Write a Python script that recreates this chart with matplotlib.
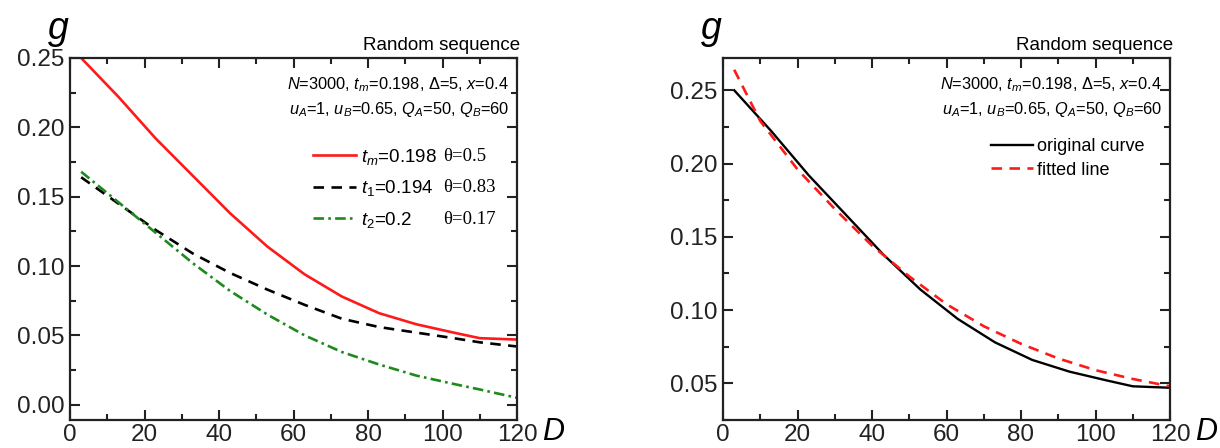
import matplotlib
matplotlib.use('Agg')
import matplotlib.pyplot as plt
from matplotlib.ticker import MultipleLocator, FormatStrFormatter

plt.rcParams['font.family'] = ['Liberation Sans', 'DejaVu Sans']
plt.rcParams['mathtext.fontset'] = 'custom'
plt.rcParams['mathtext.rm'] = 'Liberation Sans'
plt.rcParams['mathtext.it'] = 'Liberation Sans:italic'

# data
d_vals = [3, 13, 23, 33, 43, 53, 63, 73, 83, 93, 103, 110, 120]
g_tm = [0.250, 0.222, 0.192, 0.165, 0.138, 0.114, 0.094, 0.078, 0.066, 0.058, 0.052, 0.048, 0.047]
g_t1 = [0.164, 0.145, 0.126, 0.109, 0.095, 0.083, 0.072, 0.062, 0.056, 0.052, 0.048, 0.045, 0.042]
g_t2 = [0.168, 0.146, 0.124, 0.102, 0.082, 0.065, 0.050, 0.038, 0.029, 0.021, 0.015, 0.011, 0.005]

d_fit = [3, 10, 20, 30, 40, 50, 60, 70, 80, 90, 100, 110, 120]
g_fit = [0.264, 0.229, 0.196, 0.169, 0.144, 0.123, 0.104, 0.089, 0.077, 0.067, 0.059, 0.053, 0.048]

left_labels = [r'$t_m$=0.198', r'$t_1$=0.194', r'$t_2$=0.2']
theta_labels = ['θ=0.5', 'θ=0.83', 'θ=0.17']
right_labels = ['original curve', 'fitted line']

param1 = r'$N$=3000, $t_m$=0.198, Δ=5, $x$=0.4'
param2 = r'$u_A$=1, $u_B$=0.65, $Q_A$=50, $Q_B$=60'


def style(ax, ylim):
  ax.set_xlim(0, 120)
  ax.set_ylim(*ylim)
  ax.xaxis.set_major_locator(MultipleLocator(20))
  ax.xaxis.set_minor_locator(MultipleLocator(10))
  ax.yaxis.set_major_locator(MultipleLocator(0.05))
  ax.yaxis.set_minor_locator(MultipleLocator(0.025))
  ax.yaxis.set_major_formatter(FormatStrFormatter('%.2f'))
  ax.tick_params(which='both', direction='in', top=True, right=True, width=1.5,
                 labelsize=17.5, colors='#222222')
  ax.tick_params(axis='x', pad=3)
  ax.tick_params(axis='y', pad=4)
  ax.tick_params(which='major', length=7)
  ax.tick_params(which='minor', length=4)
  for s in ax.spines.values():
    s.set_linewidth(1.6)
    s.set_color('#222222')
  ax.text(-0.025, 1.08, 'g', transform=ax.transAxes, fontsize=27, style='italic',
          ha='center', va='center')
  ax.text(1.08, -0.032, 'D', transform=ax.transAxes, fontsize=22, style='italic',
          ha='center', va='center')
  ax.text(1.006, 1.035, 'Random sequence', transform=ax.transAxes, fontsize=13.5,
          ha='right', va='center')
  ax.text(0.982, 0.925, param1, transform=ax.transAxes, fontsize=11.8,
          ha='right', va='center')
  ax.text(0.982, 0.858, param2, transform=ax.transAxes, fontsize=11.8,
          ha='right', va='center')


fig = plt.figure(figsize=(12.2, 4.48), dpi=100)
ax1 = fig.add_axes([70 / 1220, 28 / 448, 447 / 1220, 362 / 448])
ax2 = fig.add_axes([723 / 1220, 28 / 448, 447 / 1220, 362 / 448])

ax1.plot(d_vals, g_tm, color='#ff1a1a', lw=1.9, label=left_labels[0])
ax1.plot(d_vals, g_t1, color='black', lw=1.9, dashes=(4, 2.8), label=left_labels[1])
ax1.plot(d_vals, g_t2, color='#1e8a1e', lw=1.9, dashes=(4, 1.6, 1, 1.6), label=left_labels[2])
style(ax1, (-0.011, 0.25))
leg1 = ax1.legend(loc='center left', bbox_to_anchor=(65.2, 0.156), bbox_transform=ax1.transData,
                  frameon=False, fontsize=13.5, borderpad=0, borderaxespad=0,
                  handlelength=2.3, handletextpad=0.25, labelspacing=0.62)

ax2.plot(d_vals, g_tm, color='black', lw=1.7, label=right_labels[0])
ax2.plot(d_fit, g_fit, color='#ff1a1a', lw=1.9, dashes=(4, 2.8), label=right_labels[1])
style(ax2, (0.025, 0.272))
ax2.legend(loc='center left', bbox_to_anchor=(72, 0.2035), bbox_transform=ax2.transData,
           frameon=False, fontsize=13, borderpad=0, borderaxespad=0,
           handlelength=2.3, handletextpad=0.25, labelspacing=0.35)

# theta column next to the left legend rows
fig.canvas.draw()
r = fig.canvas.get_renderer()
x_theta = ax1.transData.transform((100.2, 0))[0]
for t, lab in zip(leg1.get_texts(), theta_labels):
  bb = t.get_window_extent(r)
  fig.text(x_theta / fig.bbox.width, (bb.y1 - 1) / fig.bbox.height, lab, fontsize=13.5,
           family='Liberation Serif', ha='left', va='top')

fig.savefig('out.png', dpi=100)
